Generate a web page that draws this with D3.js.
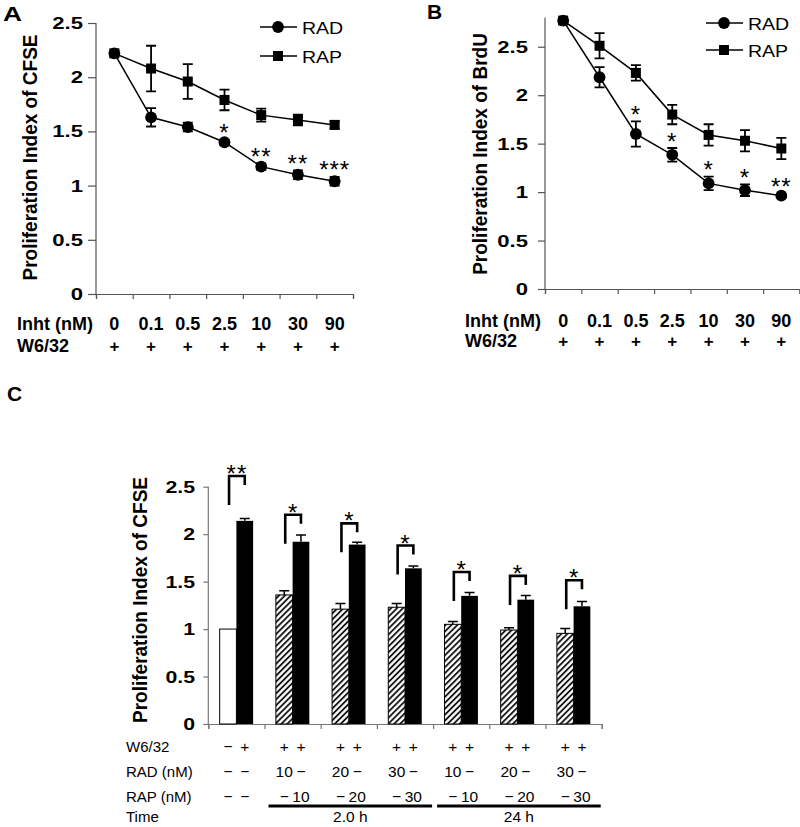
<!DOCTYPE html>
<html><head><meta charset="utf-8">
<script src="https://cdn.jsdelivr.net/npm/d3@7"></script>
<style>body{margin:0;background:#fff}svg{display:block}</style></head>
<body>
<svg id="c" width="800" height="827"></svg>
<script>
// ---------- DATA ----------
const inhtLabels = ["0", "0.1", "0.5", "2.5", "10", "30", "90"];
const w632Row = ["+", "+", "+", "+", "+", "+", "+"];
// Panel A (CFSE)
const aRad    = [2.22, 1.63, 1.54, 1.40, 1.175, 1.10, 1.04];
const aRadErr = [0, 0.085, 0.04, 0.025, 0.03, 0.04, 0.04];
const aRap    = [2.22, 2.08, 1.96, 1.79, 1.65, 1.605, 1.56];
const aRapErr = [0, 0.21, 0.16, 0.095, 0.06, 0.05, 0.035];
const aSig    = ["", "", "", "*", "**", "**", "***"];
// Panel B (BrdU)
const bRad    = [2.77, 2.185, 1.60, 1.385, 1.09, 1.02, 0.963];
const bRadErr = [0, 0.105, 0.13, 0.07, 0.07, 0.06, 0.02];
const bRap    = [2.77, 2.51, 2.23, 1.80, 1.59, 1.53, 1.45];
const bRapErr = [0, 0.13, 0.08, 0.1, 0.11, 0.11, 0.11];
const bSig    = ["", "", "*", "*", "*", "*", "**"];
// Panel C (bars)
const cFirst    = [1.0, 1.36, 1.21, 1.23, 1.05, 0.99, 0.955];   // open (control) / hatched (RAD)
const cFirstErr = [0, 0.045, 0.06, 0.04, 0.03, 0.025, 0.05];
const cSecond    = [2.14, 1.92, 1.89, 1.64, 1.35, 1.31, 1.24];  // black (RAP / W6/32)
const cSecondErr = [0.025, 0.07, 0.025, 0.025, 0.035, 0.045, 0.05];
const cSig      = ["**", "*", "*", "*", "*", "*", "*"];
const cSigLevel = [2.613, 2.205, 2.114, 1.88, 1.602, 1.56, 1.514];
const cRowW632 = [["−","+"],["+","+"],["+","+"],["+","+"],["+","+"],["+","+"],["+","+"]];
const cRowRAD  = [["−","−"],["10","−"],["20","−"],["30","−"],["10","−"],["20","−"],["30","−"]];
const cRowRAP  = [["−","−"],["−","10"],["−","20"],["−","30"],["−","10"],["−","20"],["−","30"]];
const cTimes = [{label:"2.0 h", from:1, to:3}, {label:"24 h", from:4, to:6}];
const yTicks = [0, 0.5, 1, 1.5, 2, 2.5];

// ---------- HELPERS ----------
const FONT = "'Liberation Sans', Arial, Helvetica, sans-serif";
const svg = d3.select("#c");
function txt(g, x, y, s, o = {}) {
  const t = g.append("text")
    .attr("transform", `translate(${x},${y})` + (o.rot ? ` scale(${o.sx||1},1) rotate(${o.rot})` : ` scale(${o.sx||1},1)`))
    .attr("font-family", FONT)
    .attr("font-size", o.size || 16)
    .attr("font-weight", o.bold ? "bold" : "normal")
    .attr("text-anchor", o.anchor || "start")
    .attr("fill", "#000")
    .text(s);
  if (o.ls) t.attr("letter-spacing", o.ls);
  return t;
}

// ---------- LINE PANELS ----------
function linePanel(c) {
  const g = svg.append("g");
  const x = d3.scaleBand().domain(inhtLabels).range([c.x0, c.x1]);
  const xi = d3.scaleLinear().domain([0, inhtLabels.length]).range([c.x0, c.x1]);
  const y = d3.scaleLinear().domain([0, c.ymax]).range([c.y0, c.ytop]);
  const cx = d => x(d) + x.bandwidth() / 2;

  const ya = g.append("g").attr("transform", `translate(${c.x0},0)`)
    .call(d3.axisLeft(y).tickValues(yTicks).tickSize(c.tick).tickFormat(""));
  const xa = g.append("g").attr("transform", `translate(0,${c.y0})`)
    .call(d3.axisBottom(xi).tickValues(d3.range(inhtLabels.length + 1)).tickSize(5).tickFormat(""));
  [ya, xa].forEach(a => { a.select(".domain").attr("stroke", "#555").attr("stroke-width", 1.2);
    a.selectAll(".tick line").attr("stroke", "#555").attr("stroke-width", 1.2); });
  ya.select(".domain").attr("d", `M0,${y(c.ymax)}V${c.y0}`);

  yTicks.forEach(v => txt(g, c.labRight, y(v) + 6, d3.format("")(v), {size: 17, bold: true, anchor: "end", sx: 1.3}));

  const line = (vals) => d3.line().x((d, i) => cx(inhtLabels[i])).y(d => y(d))(vals);
  g.append("path").attr("d", line(c.rap)).attr("fill", "none").attr("stroke", "#000").attr("stroke-width", 1.5);
  g.append("path").attr("d", line(c.rad)).attr("fill", "none").attr("stroke", "#000").attr("stroke-width", 1.5);

  function errs(vals, es) {
    vals.forEach((v, i) => {
      const e = es[i]; if (!e) return;
      const xx = cx(inhtLabels[i]);
      g.append("path").attr("d", `M${xx},${y(v - e)}V${y(v + e)}M${xx - 5},${y(v + e)}H${xx + 5}M${xx - 5},${y(v - e)}H${xx + 5}`)
        .attr("stroke", "#000").attr("stroke-width", 1.8).attr("fill", "none");
    });
  }
  errs(c.rap, c.rapErr); errs(c.rad, c.radErr);

  c.rap.forEach((v, i) => g.append("rect").attr("x", cx(inhtLabels[i]) - 5).attr("y", y(v) - 5).attr("width", 10).attr("height", 10).attr("fill", "#000"));
  c.rad.forEach((v, i) => g.append("circle").attr("cx", cx(inhtLabels[i])).attr("cy", y(v)).attr("r", 5.9).attr("fill", "#000"));

  c.sig.forEach((s, i) => {
    if (!s) return;
    const top = y(c.rad[i] + c.radErr[i]) - 12;
    txt(g, cx(inhtLabels[i]), top + 13.5, s, {size: 24, anchor: "middle", ls: 1});
  });

  [["RAD", c.legY1, "c"], ["RAP", c.legY2, "s"]].forEach(([lab, ly, m]) => {
    g.append("line").attr("x1", c.legX).attr("x2", c.legX + 37).attr("y1", ly).attr("y2", ly).attr("stroke", "#000").attr("stroke-width", 1.5);
    const mx = c.legX + 18;
    if (m === "c") g.append("circle").attr("cx", mx).attr("cy", ly).attr("r", 5.9).attr("fill", "#000");
    else g.append("rect").attr("x", mx - 5).attr("y", ly - 5).attr("width", 10).attr("height", 10).attr("fill", "#000");
    txt(g, c.legX + 42, ly + 6.5, lab, {size: 17, sx: 1.15});
  });

  txt(g, c.rowX, c.row1, "Inht (nM)", {size: 17.5, bold: true, sx: 1.03});
  txt(g, c.rowX, c.row2, "W6/32", {size: 17.5, bold: true, sx: 1.03});
  inhtLabels.forEach((l, i) => {
    txt(g, cx(l), c.row1, l, {size: 18, bold: true, anchor: "middle"});
    txt(g, cx(l), c.row2, w632Row[i], {size: 17, bold: true, anchor: "middle"});
  });

  txt(g, c.ylabX, c.ylabY, c.ylab, {size: 19, bold: true, anchor: "middle", rot: -90, sx: 1.1});
  txt(g, c.letX, c.letY, c.letter, {size: 21, bold: true, sx: c.letSx});
}

linePanel({x0: 96, x1: 353, y0: 294, ytop: 23, ymax: 2.5, tick: 8, labRight: 83,
  rad: aRad, radErr: aRadErr, rap: aRap, rapErr: aRapErr, sig: aSig,
  legX: 260, legY1: 27, legY2: 56, rowX: 17, row1: 330, row2: 351.5,
  ylab: "Proliferation Index of CFSE", ylabX: 36.5, ylabY: 157.5, letter: "A", letX: 3, letY: 20.5, letSx: 1.25});

linePanel({x0: 545, x1: 799.5, y0: 289, ytop: 289 - 2.8 * 96.9, ymax: 2.8, tick: 7, labRight: 528,
  rad: bRad, radErr: bRadErr, rap: bRap, rapErr: bRapErr, sig: bSig,
  legX: 706, legY1: 23, legY2: 50, rowX: 465, row1: 326.5, row2: 346.5,
  ylab: "Proliferation Index of BrdU", ylabX: 486.5, ylabY: 154, letter: "B", letX: 427, letY: 19, letSx: 1.0});

// ---------- BAR PANEL C ----------
(function () {
  const g = svg.append("g");
  const idx = d3.range(cFirst.length);
  const xG = d3.scaleBand().domain(idx).range([208.3, 601.7]);
  const xIn = d3.scaleBand().domain([0, 1]).range([0, xG.bandwidth()]).paddingInner(0).paddingOuter(0.68);
  const xi = d3.scaleLinear().domain([0, idx.length]).range([208.3, 601.7]);
  const y = d3.scaleLinear().domain([0, 2.5]).range([724, 486.7]);
  const bw = xIn.bandwidth();
  const bc = (i, j) => xG(i) + xIn(j) + bw / 2;

  const defs = svg.append("defs");
  const pat = defs.append("pattern").attr("id", "hatch").attr("patternUnits", "userSpaceOnUse")
    .attr("width", 4.2).attr("height", 4.2).attr("patternTransform", "rotate(45)");
  pat.append("rect").attr("width", 4.2).attr("height", 4.2).attr("fill", "#fff");
  pat.append("line").attr("x1", 1).attr("x2", 1).attr("y1", 0).attr("y2", 4.2).attr("stroke", "#000").attr("stroke-width", 1.7);

  const ya = g.append("g").attr("transform", "translate(208.3,0)")
    .call(d3.axisLeft(y).tickValues(yTicks).tickSize(5).tickFormat(""));
  const xa = g.append("g").attr("transform", "translate(0,724)")
    .call(d3.axisBottom(xi).tickValues(d3.range(idx.length + 1)).tickSize(5).tickFormat(""));
  [ya, xa].forEach(a => { a.select(".domain").attr("stroke", "#777").attr("stroke-width", 1.2);
    a.selectAll(".tick line").attr("stroke", "#777").attr("stroke-width", 1.2); });
  ya.select(".domain").attr("d", `M0,${y(2.5)}V724`);
  yTicks.forEach(v => txt(g, 195, y(v) + 6, d3.format("")(v), {size: 17, bold: true, anchor: "end", sx: 1.25}));

  idx.forEach(i => {
    g.append("rect").attr("x", xG(i) + xIn(0)).attr("y", y(cFirst[i])).attr("width", bw).attr("height", 724 - y(cFirst[i]))
      .attr("fill", i === 0 ? "#fff" : "url(#hatch)").attr("stroke", "#000").attr("stroke-width", 1);
    g.append("rect").attr("x", xG(i) + xIn(1)).attr("y", y(cSecond[i])).attr("width", bw).attr("height", 724 - y(cSecond[i]))
      .attr("fill", "#000");
  });
  function eb(i, j, v, e) {
    if (!e) return;
    const xx = bc(i, j);
    g.append("path").attr("d", `M${xx},${y(v)}V${y(v + e)}M${xx - 5},${y(v + e)}H${xx + 5}`)
      .attr("stroke", "#000").attr("stroke-width", 1.5).attr("fill", "none");
  }
  idx.forEach(i => { eb(i, 0, cFirst[i], cFirstErr[i]); eb(i, 1, cSecond[i], cSecondErr[i]); });

  idx.forEach(i => {
    const t = y(cSigLevel[i]);
    const xl = bc(i, 0) + 1, xr = bc(i, 1);
    g.append("path").attr("d", `M${xl},${t + 29}V${t}H${xr}V${t + 9}`)
      .attr("stroke", "#000").attr("stroke-width", 2.6).attr("fill", "none");
    txt(g, (xl + xr) / 2, t - 7.5 + 13.5, cSig[i], {size: 24, anchor: "middle", ls: 1});
  });

  const rows = [[cRowW632, 752, "W6/32"], [cRowRAD, 777.3, "RAD (nM)"], [cRowRAP, 801.7, "RAP (nM)"]];
  rows.forEach(([arr, yy, lab]) => {
    txt(g, 126, yy, lab, {size: 15});
    arr.forEach((pair, i) => pair.forEach((s, j) => txt(g, bc(i, j), yy, s, {size: 15.5, anchor: "middle"})));
  });
  txt(g, 126, 822, "Time", {size: 15});
  cTimes.forEach(t => {
    const xa0 = xG(t.from) + 4, xa1 = xG(t.to) + xG.bandwidth() - 1;
    g.append("line").attr("x1", xa0).attr("x2", xa1).attr("y1", 806).attr("y2", 806).attr("stroke", "#000").attr("stroke-width", 3);
    txt(g, (xa0 + xa1) / 2, 822, t.label, {size: 15.5, anchor: "middle"});
  });

  txt(g, 147, 600, "Proliferation Index of CFSE", {size: 19, bold: true, anchor: "middle", rot: -90, sx: 1.1});
  txt(g, 7, 401, "C", {size: 21, bold: true});
})();
</script>
</body></html>
